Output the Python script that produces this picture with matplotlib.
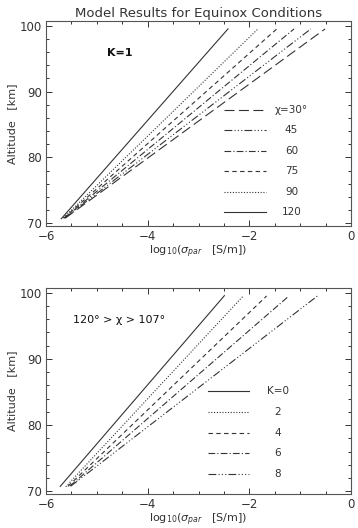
import numpy as np
import matplotlib
matplotlib.use('Agg')
import matplotlib.pyplot as plt
from matplotlib.ticker import MultipleLocator

# Panel superior: K=1, distintos angulos cenitales chi
chi_labels = ['χ=30°', '45', '60', '75', '90', '120']
chi_x = [[-5.62, -0.51],
         [-5.63, -0.79],
         [-5.64, -1.12],
         [-5.65, -1.46],
         [-5.66, -1.83],
         [-5.70, -2.42]]
chi_y = [[70.8, 99.5],
         [70.8, 99.5],
         [70.8, 99.5],
         [70.8, 99.5],
         [70.8, 99.5],
         [70.7, 99.5]]

# Panel inferior: 120 > chi > 107, distintos K
k_labels = ['K=0', '2', '4', '6', '8']
k_x = [[-5.72, -2.49],
       [-5.61, -2.12],
       [-5.57, -1.66],
       [-5.53, -1.22],
       [-5.51, -0.66]]
k_y = [[70.75, 99.55],
       [70.7, 99.5],
       [70.75, 99.5],
       [70.8, 99.5],
       [70.8, 99.5]]

estilos_chi = [(0, (9, 4)), (0, (7, 2, 1, 2, 1, 2, 1, 2)), (0, (6, 2, 1, 2)),
               (0, (4, 3)), (0, (1, 1.5)), '-']
estilos_k = ['-', (0, (1, 1.5)), (0, (4, 3)), (0, (6, 2, 1, 2)),
             (0, (7, 2, 1, 2, 1, 2, 1, 2))]

col = '#333333'
plt.rcParams['font.family'] = 'DejaVu Sans'

fig = plt.figure(figsize=(3.58, 5.28), dpi=100)
ax1 = fig.add_axes([46/358, 1-226/528, 305/358, 205/528])
ax2 = fig.add_axes([46/358, 1-494/528, 305/358, 206/528])


def formato(ax):
    ax.set_xlim(-6, 0)
    ax.set_ylim(69.6, 100.7)
    ax.xaxis.set_major_locator(MultipleLocator(2))
    ax.xaxis.set_minor_locator(MultipleLocator(0.5))
    ax.yaxis.set_major_locator(MultipleLocator(10))
    ax.yaxis.set_minor_locator(MultipleLocator(2))
    ax.tick_params(which='both', direction='in', top=True, right=True,
                   colors=col, labelsize=8.5, width=0.7)
    ax.tick_params(which='major', length=4, pad=3)
    ax.tick_params(which='minor', length=2)
    for s in ax.spines.values():
        s.set_color('#555555')
        s.set_linewidth(0.8)
    ax.set_xlabel(r'log$_{10}$($\sigma_{par}$   [S/m])', fontsize=8, color=col, labelpad=0)
    ax.set_ylabel('Altitude   [km]', fontsize=8, color=col, labelpad=2)


def leyenda(ax, etiquetas, estilos, x0, x1, xt, ytop, dy):
    for i, (lab, ls) in enumerate(zip(etiquetas, estilos)):
        yy = ytop - i * dy
        ax.plot([x0, x1], [yy, yy], transform=ax.transAxes, ls=ls, color=col, lw=0.8)
        ax.text(xt, yy, lab, transform=ax.transAxes, ha='center', va='center',
                fontsize=7.5, color=col)


for xs, ys, ls in zip(chi_x, chi_y, estilos_chi):
    ax1.plot(xs, ys, ls=ls, color=col, lw=0.8)
formato(ax1)
ax1.set_title('Model Results for Equinox Conditions', fontsize=9.5, color=col, pad=3)
ax1.text(0.20, 0.845, 'K=1', transform=ax1.transAxes, fontsize=8, fontweight='bold',
         va='center', color='#111111')
leyenda(ax1, chi_labels, estilos_chi, 0.585, 0.72, 0.805, 0.566, 0.1)

for xs, ys, ls in zip(k_x, k_y, estilos_k):
    ax2.plot(xs, ys, ls=ls, color=col, lw=0.8)
formato(ax2)
ax2.text(0.09, 0.845, '120° > χ > 107°', transform=ax2.transAxes, fontsize=8,
         va='center', color='#111111')
leyenda(ax2, k_labels, estilos_k, 0.53, 0.665, 0.76, 0.50, 0.101)

fig.savefig('out.png', dpi=100)
